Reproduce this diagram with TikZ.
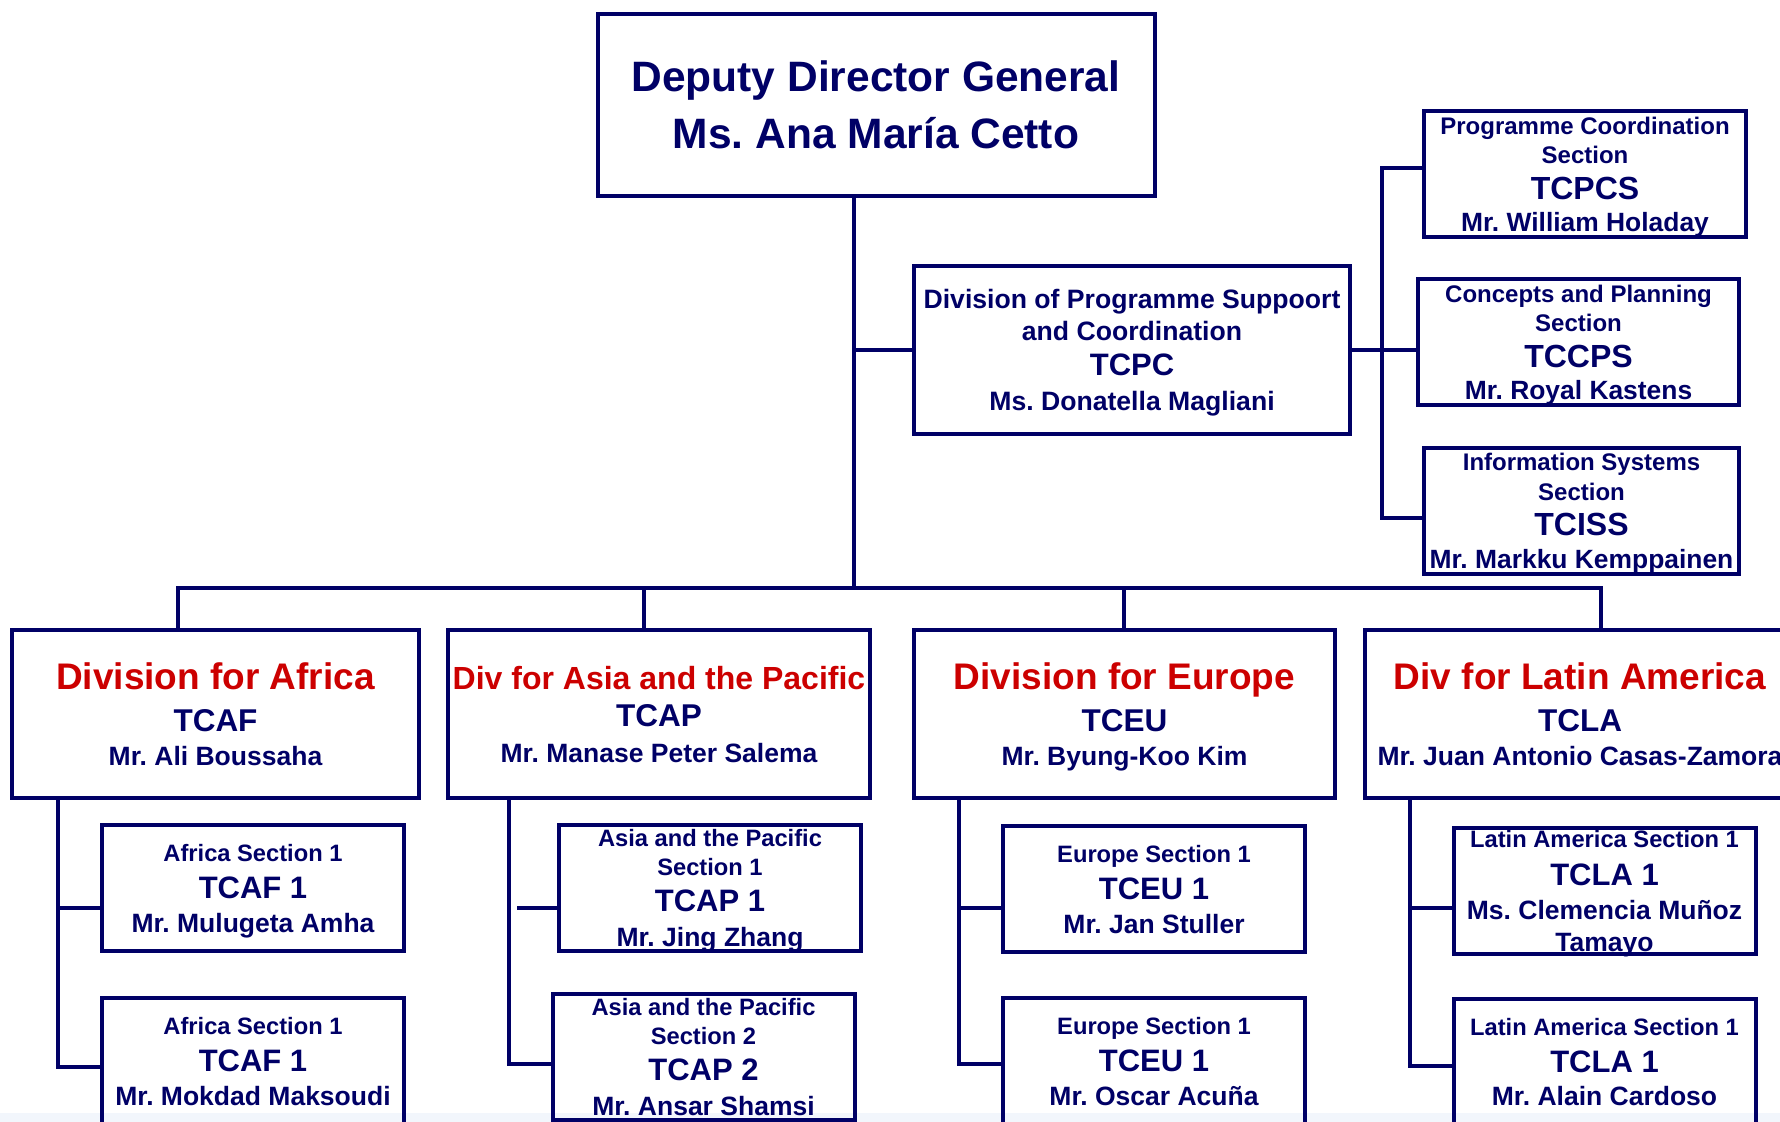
\documentclass[tikz,border=0pt]{standalone}
\usepackage{fontspec}
\setmainfont{Liberation Sans}
\usepackage{tikz}
\usetikzlibrary{positioning}

\definecolor{ianavy}{HTML}{000066}
\definecolor{iared}{HTML}{CC0000}
\definecolor{iastrip}{HTML}{F2F6FC}

\newcommand{\divtitle}[1]{{\color{iared}\fontsize{18.5}{17}\selectfont #1}}
\newcommand{\divcode}[1]{{\fontsize{15.75}{17}\selectfont #1}}
\newcommand{\seccode}[1]{{\fontsize{16}{16}\selectfont #1}}
\newcommand{\secname}[1]{{\fontsize{13.2}{16}\selectfont #1}}
\newcommand{\subcode}[1]{{\fontsize{15.5}{16}\selectfont #1}}
\newcommand{\subname}[1]{{\fontsize{13.25}{16}\selectfont #1}}
\lineskiplimit=-100pt
\frenchspacing

\begin{document}
\begin{tikzpicture}[x=0.5pt, y=-0.5pt, color=ianavy, line width=2pt,
    orgbox/.style={draw, line width=2pt, align=center, inner sep=0pt, text depth=0pt},
    ddgbox/.style={orgbox, minimum width=278.5pt, minimum height=91pt,
        font=\bfseries\fontsize{21.25}{28.5}\selectfont},
    headbox/.style={orgbox, minimum width=218pt, minimum height=84pt,
        font=\bfseries\fontsize{13.3}{15.9}\selectfont},
    secbox/.style={orgbox, minimum height=63pt,
        font=\bfseries\fontsize{12}{14.75}\selectfont},
    divbox/.style={orgbox, minimum height=84pt,
        font=\bfseries\fontsize{13.25}{17}\selectfont},
    subbox/.style={orgbox, minimum width=151pt, minimum height=63pt,
        font=\bfseries\fontsize{11.85}{17}\selectfont},
    tallsubbox/.style={subbox, font=\bfseries\fontsize{11.85}{14.5}\selectfont}]

    \useasboundingbox (0,0) rectangle (1780,1122);
    \clip (0,0) rectangle (1780,1122);
    \fill[iastrip] (0,1113) rectangle (1780,1122);

    \node[ddgbox] (ddg) at (876,105) {Deputy Director General\\Ms. Ana María Cetto};

    \node[headbox] (tcpc) at (1132,350) {Division of Programme Suppoort\\and Coordination\\[1.6pt]{\fontsize{15.5}{15.5}\selectfont TCPC}\\[1.6pt]Ms. Donatella Magliani};

    \node[secbox, minimum width=161pt] (tcpcs) at (1585,174.5) {Programme Coordination\\Section\\[2.85pt]\seccode{TCPCS}\\[1.65pt]\secname{Mr. William Holaday}};
    \node[secbox, minimum width=160.5pt] (tccps) at (1578.5,342.5) {Concepts and Planning\\Section\\[2.85pt]\seccode{TCCPS}\\[1.65pt]\secname{Mr. Royal Kastens}};
    \node[secbox, minimum width=157.5pt] (tciss) at (1581.5,511) {Information Systems\\Section\\[2.85pt]\seccode{TCISS}\\[1.65pt]\secname{Mr. Markku Kemppainen}};

    \node[divbox, minimum width=203.5pt] (afr) at (215.5,714) {\divtitle{Division for Africa}\\[4pt]\divcode{TCAF}\\Mr. Ali Boussaha};
    \node[divbox, minimum width=211pt] (asp) at (659,714) {{\color{iared}\fontsize{16}{17}\selectfont Div for Asia and the Pacific}\\[1.5pt]\divcode{TCAP}\\[1pt]Mr. Manase Peter Salema};
    \node[divbox, minimum width=210.5pt] (eur) at (1124.5,714) {\divtitle{Division for Europe}\\[4pt]\divcode{TCEU}\\Mr. Byung-Koo Kim};
    \node[divbox, minimum width=215pt] (lat) at (1580,714) {\divtitle{Div for Latin America}\\[4pt]\divcode{TCLA}\\Mr. Juan Antonio Casas-Zamora};

    \node[subbox] (afr1) at (253,888) {Africa Section 1\\[1.5pt]\subcode{TCAF 1}\\\subname{Mr. Mulugeta Amha}};
    \node[subbox] (afr2) at (253,1061) {Africa Section 1\\[1.5pt]\subcode{TCAF 1}\\\subname{Mr. Mokdad Maksoudi}};
    \node[tallsubbox] (asp1) at (710,888) {Asia and the Pacific\\Section 1\\[3.5pt]\subcode{TCAP 1}\\[3pt]\subname{Mr. Jing Zhang}};
    \node[tallsubbox] (asp2) at (703.5,1057) {Asia and the Pacific\\Section 2\\[3.5pt]\subcode{TCAP 2}\\[3pt]\subname{Mr. Ansar Shamsi}};
    \node[subbox] (eur1) at (1154,889) {Europe Section 1\\[1.5pt]\subcode{TCEU 1}\\\subname{Mr. Jan Stuller}};
    \node[subbox] (eur2) at (1154,1061) {Europe Section 1\\[1.5pt]\subcode{TCEU 1}\\\subname{Mr. Oscar Acuña}};
    \node[tallsubbox] (lat1) at (1604.5,891) {Latin America Section 1\\[4.5pt]\subcode{TCLA 1}\\[2.5pt]\subname{Ms. Clemencia Muñoz}\\[1.5pt]\subname{Tamayo}};
    \node[subbox] (lat2) at (1604.5,1062) {Latin America Section 1\\[1.5pt]\subcode{TCLA 1}\\[-0.5pt]\subname{Mr. Alain Cardoso}};

    % trunk and support division
    \coordinate (trunk) at (854,588);
    \draw (ddg.south -| trunk) -- (trunk);
    \draw (tcpc.west) -- (tcpc.west -| trunk);

    \coordinate (bustop) at (1382,168);
    \coordinate (busbot) at (1382,518);
    \draw (tcpc.east) -- (tcpc.east -| tccps.west);
    \draw (bustop -| tcpcs.west) -- (bustop) -- (busbot) -- (busbot -| tciss.west);

    % divisions
    \coordinate (bafr) at (178,588);
    \coordinate (basp) at (644,588);
    \coordinate (beur) at (1124,588);
    \coordinate (blat) at (1601,588);
    \draw (afr.north -| bafr) -- (bafr) -- (blat) -- (blat |- lat.north);
    \draw (basp) -- (basp |- asp.north);
    \draw (beur) -- (beur |- eur.north);

    % sections
    \coordinate (afrv) at (58,1067);
    \coordinate (afrj) at (58,908);
    \draw (afr.south -| afrv) -- (afrv) -- (afrv -| afr2.west);
    \draw (afrj) -- (afrj -| afr1.west);

    \coordinate (aspv) at (509,1064);
    \coordinate (aspj) at (517,908);
    \draw (asp.south -| aspv) -- (aspv) -- (aspv -| asp2.west);
    \draw (aspj) -- (aspj -| asp1.west);

    \coordinate (eurv) at (959,1064);
    \coordinate (eurj) at (959,908);
    \draw (eur.south -| eurv) -- (eurv) -- (eurv -| eur2.west);
    \draw (eurj) -- (eurj -| eur1.west);

    \coordinate (latv) at (1410,1066);
    \coordinate (latj) at (1410,908);
    \draw (lat.south -| latv) -- (latv) -- (latv -| lat2.west);
    \draw (latj) -- (latj -| lat1.west);
\end{tikzpicture}
\end{document}
